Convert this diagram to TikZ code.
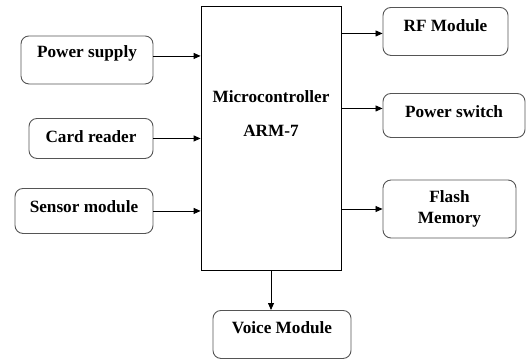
\documentclass[tikz,border=0pt]{standalone}
\usepackage{fontspec}
\setmainfont{Liberation Serif}
\usetikzlibrary{arrows.meta, positioning, calc}
\definecolor{edgegray}{HTML}{555555}
\tikzset{
  blk/.style={
    draw=edgegray, line width=0.9pt, rounded corners=8pt,
    inner sep=0pt, align=center,
    font=\fontsize{17.2}{21}\selectfont\bfseries
  },
  mainblk/.style={draw=black, line width=0.8pt, inner sep=0pt},
  lbl/.style={font=\fontsize{17.2}{21}\selectfont\bfseries, align=center},
  arr/.style={-{Triangle[length=7pt,width=6pt]}, line width=0.8pt, black},
}
\begin{document}
\begin{tikzpicture}[x=1pt, y=-1pt]
  \useasboundingbox (0,0) rectangle (527,360);

  % central controller
  \node[mainblk, minimum width=140pt, minimum height=264pt] (mcu) at (271,138) {};
  \node[lbl] (mcutext) at (271,114) {Microcontroller\\[13pt]ARM-7};

  % inputs
  \node[blk, minimum width=132pt, text height=22pt, text depth=26pt] (ps) at (87,35.5) [anchor=north] {Power supply};
  \node[blk, minimum width=124pt, text height=24pt, text depth=16pt] (cr) at (91,118) [anchor=north] {Card reader};
  \node[blk, minimum width=138pt, text height=24pt, text depth=21pt] (sm) at (84,188) [anchor=north] {Sensor module};

  % outputs
  \node[blk, minimum width=125pt, text height=24pt, text depth=24pt] (rf) at (445.5,7) [anchor=north] {RF Module};
  \node[blk, minimum width=142pt, text height=24pt, text depth=20pt] (psw) at (454,93) [anchor=north] {Power switch};
  \node[blk, minimum width=133pt, minimum height=58pt] (fm) at (449.5,209) {Flash\\Memory};
  \node[blk, minimum width=138pt, text height=23pt, text depth=25pt] (vm) at (282,310) [anchor=north] {Voice Module};

  % connections
  \draw[arr] ([yshift=4pt]ps.east) -- ([yshift=4pt]ps.east -| mcu.west);
  \draw[arr] (cr.east) -- (cr.east -| mcu.west);
  \draw[arr] (sm.east) -- (sm.east -| mcu.west);
  \draw[arr] ([yshift=-2pt]rf.west -| mcu.east) -- ([yshift=-2pt]rf.west);
  \draw[arr] ([yshift=7pt]psw.west -| mcu.east) -- ([yshift=7pt]psw.west);
  \draw[arr] (fm.west -| mcu.east) -- (fm.west);
  \draw[arr] (mcu.south) -- (mcu.south |- vm.north);
\end{tikzpicture}
\end{document}
